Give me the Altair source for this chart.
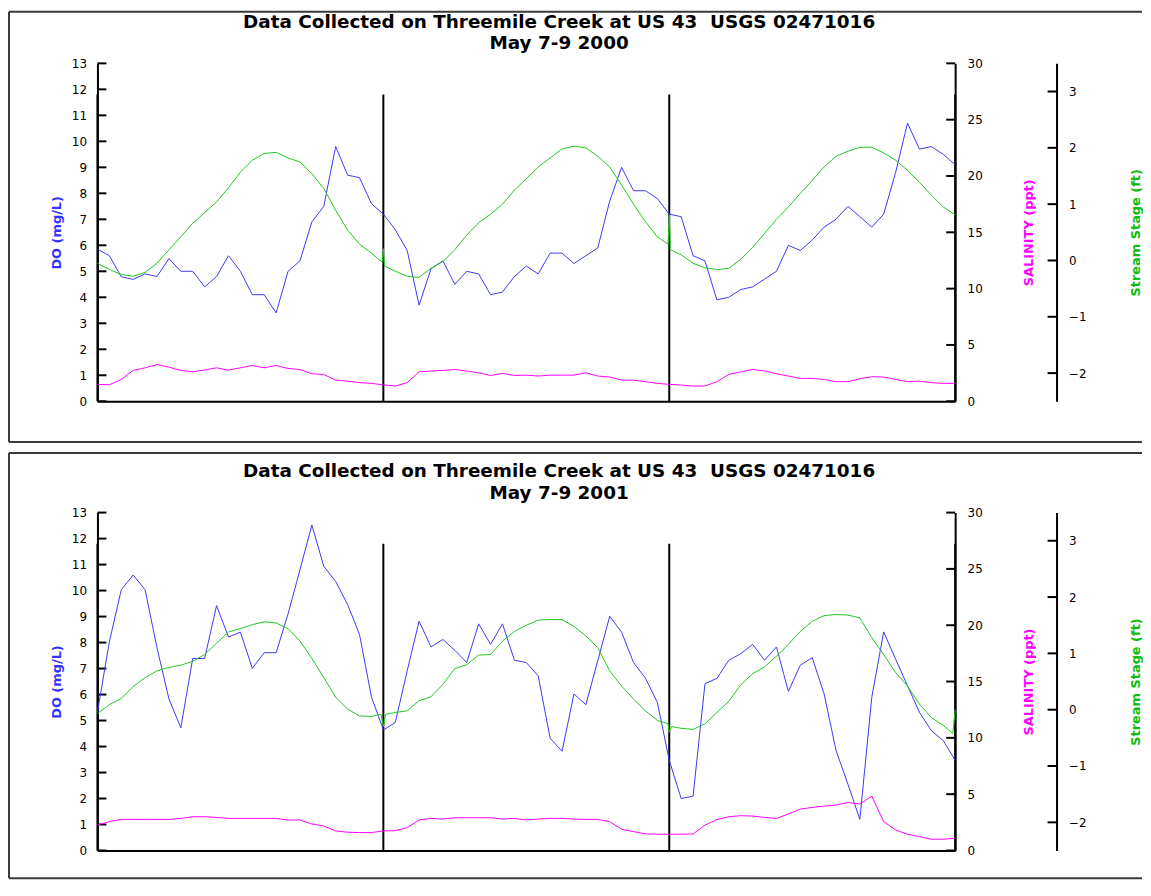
import altair as alt
import pandas as pd

# ---------------- data ----------------
hours = list(range(73))  # hourly readings, 3 days (May 7-9)

do_2000 = [5.85, 5.6, 4.79, 4.69, 4.9, 4.8, 5.49, 5.0, 5.0, 4.4,
           4.8, 5.6, 5.0, 4.1, 4.1, 3.4, 5.0, 5.4, 6.9, 7.5,
           9.8, 8.7, 8.6, 7.6, 7.2, 6.6, 5.8, 3.7, 5.1, 5.4,
           4.5, 5.0, 4.9, 4.1, 4.2, 4.8, 5.2, 4.9, 5.7, 5.7,
           5.3, 5.6, 5.9, 7.7, 9.0, 8.1, 8.1, 7.8, 7.2, 7.1,
           5.6, 5.4, 3.9, 4.0, 4.3, 4.4, 4.7, 5.0, 6.0, 5.8,
           6.2, 6.7, 7.0, 7.5, 7.1, 6.7, 7.2, 8.8, 10.7, 9.7,
           9.8, 9.5, 9.1]
sal_2000 = [1.5, 1.46, 1.94, 2.74, 2.97, 3.26, 3.03, 2.74, 2.62, 2.77,
            2.97, 2.77, 2.97, 3.18, 2.97, 3.18, 2.91, 2.82, 2.44, 2.38,
            1.88, 1.79, 1.65, 1.59, 1.46, 1.35, 1.65, 2.62, 2.68, 2.74,
            2.82, 2.68, 2.53, 2.29, 2.47, 2.29, 2.32, 2.24, 2.32, 2.32,
            2.32, 2.53, 2.24, 2.15, 1.88, 1.88, 1.74, 1.59, 1.5, 1.44,
            1.35, 1.35, 1.74, 2.38, 2.6, 2.82, 2.7, 2.44, 2.24, 2.03,
            2.03, 1.94, 1.74, 1.74, 2.0, 2.18, 2.15, 1.94, 1.74, 1.79,
            1.65, 1.59, 1.59]
stage_2000_t = (list(range(0, 24)) + [23.9, 24.0, 24.1] + list(range(25, 48))
                + [47.9, 48.0, 48.1] + list(range(49, 73)))
stage_2000 = [-0.05, -0.16, -0.25, -0.28, -0.21, -0.05, 0.19, 0.42, 0.66, 0.85,
              1.04, 1.29, 1.57, 1.78, 1.9, 1.92, 1.82, 1.75, 1.54, 1.28,
              0.89, 0.54, 0.29, 0.13,
              -0.03, 0.21, -0.1,
              -0.19, -0.28, -0.3, -0.14, -0.02, 0.19, 0.45, 0.67, 0.82, 1.0,
              1.25, 1.45, 1.66, 1.82, 1.98, 2.03, 2.0, 1.85, 1.66, 1.34,
              1.0, 0.69, 0.42,
              0.29, 0.81, 0.19,
              0.1, -0.05, -0.13, -0.16, -0.14, 0.02, 0.23, 0.48, 0.73, 0.95,
              1.19, 1.42, 1.66, 1.85, 1.94, 2.01, 2.01, 1.91, 1.78, 1.6,
              1.39, 1.16, 0.95, 0.81]

do_2001 = [5.32, 8.03, 10.03, 10.6, 10.03, 7.8, 5.83, 4.72, 7.39, 7.39,
           9.42, 8.21, 8.4, 7.01, 7.61, 7.61, 9.1, 10.8, 12.52, 10.93,
           10.35, 9.46, 8.31, 5.91, 4.64, 4.92, 6.91, 8.82, 7.83, 8.12,
           7.7, 7.23, 8.72, 7.93, 8.72, 7.32, 7.23, 6.72, 4.32, 3.82,
           6.02, 5.61, 7.3, 9.01, 8.4, 7.23, 6.63, 5.7, 3.47, 2.0,
           2.09, 6.42, 6.62, 7.32, 7.57, 7.93, 7.32, 7.83, 6.12, 7.13,
           7.42, 6.02, 3.85, 2.55, 1.2, 5.89, 8.41, 7.36, 6.34, 5.32,
           4.61, 4.23, 3.47]
sal_2001 = [2.26, 2.56, 2.76, 2.76, 2.76, 2.76, 2.76, 2.85, 3.0, 3.0,
            2.94, 2.85, 2.85, 2.85, 2.85, 2.85, 2.71, 2.71, 2.35, 2.18,
            1.74, 1.62, 1.59, 1.59, 1.74, 1.76, 2.03, 2.71, 2.85, 2.79,
            2.91, 2.91, 2.91, 2.91, 2.79, 2.85, 2.71, 2.79, 2.85, 2.85,
            2.79, 2.76, 2.76, 2.56, 1.88, 1.68, 1.47, 1.45, 1.44, 1.45,
            1.47, 2.26, 2.74, 3.0, 3.09, 3.06, 2.94, 2.85, 3.24, 3.68,
            3.82, 3.94, 4.03, 4.26, 4.12, 4.82, 2.56, 1.82, 1.44, 1.24,
            1.0, 1.0, 1.09]
stage_2001_t = (list(range(0, 24)) + [23.8, 24.0, 24.2] + list(range(25, 48))
                + [47.9, 48.0, 48.2] + list(range(49, 72)) + [71.8, 72.0])
stage_2001 = [-0.07, 0.09, 0.2, 0.41, 0.57, 0.69, 0.75, 0.79, 0.86, 0.98,
              1.18, 1.38, 1.44, 1.51, 1.56, 1.54, 1.44, 1.22, 0.91, 0.57,
              0.22, 0.01, -0.11, -0.12,
              -0.08, -0.3, -0.08,
              -0.05, -0.02, 0.16, 0.23, 0.45, 0.73, 0.8, 0.97, 0.98, 1.22,
              1.39, 1.5, 1.59, 1.6, 1.6, 1.48, 1.31, 1.1, 0.69, 0.42,
              0.19, -0.02, -0.19,
              -0.25, -0.4, -0.3,
              -0.33, -0.35, -0.25, -0.05, 0.15, 0.44, 0.64, 0.76, 0.95, 1.16,
              1.39, 1.57, 1.67, 1.69, 1.68, 1.63, 1.28, 0.98, 0.66, 0.42,
              0.1, -0.14, -0.28,
              -0.42, 0.0]

day_hours = [0, 24, 48, 72]
do_ticks = list(range(0, 14))
sal_ticks = [0, 5, 10, 15, 20, 25, 30]
stage_ticks = [-2, -1, 0, 1, 2, 3]

title_main = "Data Collected on Threemile Creek at US 43\u00a0 USGS 02471016"
subtitle_2000 = "May 7-9 2000"
subtitle_2001 = "May 7-9 2001"

# ---------------- styling ----------------
FONT = "DejaVu Sans"
BLUE = "#3a3af5"
MAGENTA = "#ff00ff"
GREEN = "#1ec81e"
BLUE_T = "#3333ff"
GREEN_T = "#11bb11"
W, H = 863, 340
STAGE_OFFSET = 102
DAY_LINE_TOP = 11.8
TICK = 9

x_axis = alt.Axis(orient="bottom", labels=False, ticks=False, title=None, grid=False,
                  domainColor="black", domainWidth=2)
x_scale = alt.Scale(domain=[0, 72], nice=False, zero=False)


def yaxis(orient, values, title, color, pad, offset=0, angle=None, baseline=None, lab_pad=11):
    kw = dict(orient=orient, values=values, ticks=False, tickSize=0, labelPadding=lab_pad,
              labelFont=FONT, labelFontSize=12, labelColor="black", labelFlush=False,
              domainColor="black", domainWidth=2, grid=False, title=title,
              titleColor=color, titleFont=FONT, titleFontSize=13, titleFontWeight="bold",
              titlePadding=pad, offset=offset)
    if angle is not None:
        kw["titleAngle"] = angle
    if baseline is not None:
        kw["titleBaseline"] = baseline
    return alt.Axis(**kw)


def panel(do_vals, sal_vals, st_t, st_v, subtitle, box_top, box_bottom):
    X = alt.X("hour:Q", scale=x_scale, axis=x_axis)
    do_scale = alt.Scale(domain=[0, 13], nice=False, zero=False)
    sal_scale = alt.Scale(domain=[0, 30], nice=False, zero=False)
    st_scale = alt.Scale(domain=[-2.5, 3.5], nice=False, zero=False)

    do_df = pd.DataFrame({"hour": hours, "v": do_vals})
    sal_df = pd.DataFrame({"hour": hours, "v": sal_vals})
    st_df = pd.DataFrame({"hour": st_t, "v": st_v})
    day_df = pd.DataFrame({"hour": day_hours, "top": [DAY_LINE_TOP] * len(day_hours),
                           "bottom": [0] * len(day_hours)})

    left, right = -89, 1051
    box_col = "#3a3a3a"
    box_top_rule = alt.Chart().mark_rule(color=box_col, strokeWidth=2).encode(
        x=alt.value(left), x2=alt.value(right), y=alt.value(box_top))
    box_left_rule = alt.Chart().mark_rule(color=box_col, strokeWidth=2).encode(
        x=alt.value(left), y=alt.value(box_top), y2=alt.value(box_bottom))
    box_bottom_rule = alt.Chart().mark_rule(color=box_col, strokeWidth=2).encode(
        x=alt.value(left), x2=alt.value(right), y=alt.value(box_bottom))

    t1 = alt.Chart().mark_text(font=FONT, fontSize=18.5, fontWeight="bold", align="center",
                               baseline="middle", color="black").encode(
        x=alt.value(464.5), y=alt.value(-42), text=alt.value(title_main))
    t2 = alt.Chart().mark_text(font=FONT, fontSize=18.5, fontWeight="bold", align="center",
                               baseline="middle", color="black").encode(
        x=alt.value(464.5), y=alt.value(-20), text=alt.value(subtitle))

    day_lines = alt.Chart(day_df).mark_rule(color="black", strokeWidth=2).encode(
        x=X, y=alt.Y("top:Q", scale=do_scale, axis=None), y2="bottom:Q")

    do_tk = alt.Chart(pd.DataFrame({"v": do_ticks})).mark_rule(color="black", strokeWidth=2).encode(
        x=alt.value(0), x2=alt.value(TICK), y=alt.Y("v:Q", scale=do_scale, axis=None))
    sal_tk = alt.Chart(pd.DataFrame({"v": sal_ticks})).mark_rule(color="black", strokeWidth=2).encode(
        x=alt.value(W - TICK), x2=alt.value(W), y=alt.Y("v:Q", scale=sal_scale, axis=None))
    st_tk = alt.Chart(pd.DataFrame({"v": stage_ticks})).mark_rule(color="black", strokeWidth=2).encode(
        x=alt.value(W + STAGE_OFFSET - TICK), x2=alt.value(W + STAGE_OFFSET),
        y=alt.Y("v:Q", scale=st_scale, axis=None))

    do_line = alt.Chart(do_df).mark_line(color=BLUE, strokeWidth=1).encode(
        x=X, y=alt.Y("v:Q", scale=do_scale,
                     axis=yaxis("left", do_ticks, "DO (mg/L)", BLUE_T, 8)))
    sal_line = alt.Chart(sal_df).mark_line(color=MAGENTA, strokeWidth=1).encode(
        x=X, y=alt.Y("v:Q", scale=sal_scale,
                     axis=yaxis("right", sal_ticks, "SALINITY (ppt)", MAGENTA, 41,
                                angle=270, baseline="top", lab_pad=12)))
    st_line = alt.Chart(st_df).mark_line(color=GREEN, strokeWidth=1).encode(
        x=X, y=alt.Y("v:Q", scale=st_scale,
                     axis=yaxis("right", stage_ticks, "Stream Stage (ft)", GREEN_T, 44,
                                offset=STAGE_OFFSET, angle=270, baseline="top", lab_pad=12)))

    return alt.layer(box_top_rule, box_left_rule, box_bottom_rule, t1, t2,
                     day_lines, do_tk, sal_tk, st_tk, do_line, sal_line, st_line
                     ).resolve_scale(y="independent").properties(width=W, height=H)


p1 = panel(do_2000, sal_2000, stage_2000_t, stage_2000, subtitle_2000, -52, 381)
p2 = panel(do_2001, sal_2001, stage_2001_t, stage_2001, subtitle_2001, -60, 368)

chart = alt.vconcat(p1, p2, spacing=9).properties(padding=0).configure_view(stroke=None)

chart.save("out.html", embed_options={"renderer": "svg", "actions": False})
